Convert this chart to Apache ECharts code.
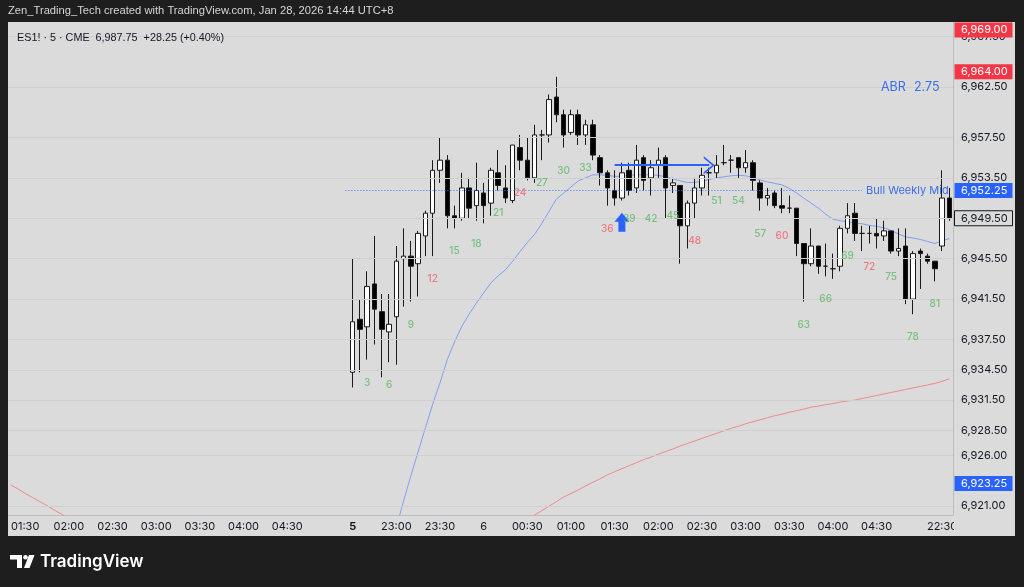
<!DOCTYPE html>
<html><head><meta charset="utf-8">
<script src="https://cdn.jsdelivr.net/npm/echarts@6/dist/echarts.min.js"></script>
<style>html,body{margin:0;padding:0;background:#1e1e1e}#c{width:1024px;height:587px}</style>
</head><body><div id="c"></div>
<script>
// ---- data ----
const barFirst = -46, barLast = 83;          // bar numbers on the category axis
// OHLC for bars 1..83
const opens  = [6934.25,6939.5,6938.75,6943,6940.25,6938.25,6939.75,6945.5,6945.75,6945,6947.75,6950,6954.25,6955.25,6949.75,6949.5,6952.5,6950.75,6952,6951,6954,6952.5,6951.25,6956.5,6955.25,6953.5,6957.75,6957.75,6961.5,6959.75,6958,6959.75,6957.75,6958.75,6955.5,6954,6952.25,6951.5,6954.25,6952.5,6955.5,6953.5,6954.75,6955.5,6952.75,6952.75,6948.75,6951,6952.5,6954,6954,6955,6955.25,6955.5,6954.5,6955,6953,6951.5,6952,6950.75,6950.5,6950.5,6947,6945,6946.75,6944.75,6944.5,6944.75,6948.5,6950,6948,6948,6948,6947.75,6948.25,6946.25,6946.75,6941.5,6946.25,6945.75,6945.25,6946.75,6951.5];
const closes = [6939.25,6938.5,6942.75,6940.5,6938.5,6939,6945.25,6945.75,6944.75,6948,6950,6954.25,6955.25,6949.75,6949.5,6952.5,6950.5,6952.25,6950.75,6954.25,6952.75,6951.5,6956.75,6955.25,6953.5,6957.75,6957.75,6961.25,6959.75,6957.75,6959.75,6957.75,6958.75,6955.75,6954,6952.5,6951.5,6954,6952.25,6955.25,6953.25,6954.5,6955.25,6952.5,6953,6948.75,6951,6952.5,6953.75,6954,6954.75,6955,6955.25,6954.5,6955,6953.25,6951.5,6951.75,6950.75,6950.5,6950.5,6947,6945,6946.75,6944.75,6944.75,6944.5,6948.5,6949.75,6948,6948,6948,6947.75,6948.25,6946.25,6946.5,6941.5,6946,6946,6945.25,6944.5,6951.5,6949.5];
const lows   = [6932.75,6934.25,6935.5,6937,6933.75,6935.25,6935,6940.75,6941.25,6941.75,6945.75,6945.75,6953,6948.5,6948.5,6949.25,6949.5,6949.25,6949,6949.75,6952.25,6951,6951,6954.25,6953.25,6953,6955.25,6957,6959,6956.5,6957.75,6956.75,6956.75,6955.25,6952.75,6950.75,6950.75,6951.25,6951.75,6952,6952.25,6951.75,6953.5,6949.5,6952,6945,6946.5,6949.5,6951.75,6951.75,6953.5,6954.75,6954,6953.5,6954,6952.25,6950.25,6950.75,6950.5,6950,6950,6945.75,6941.25,6944.75,6944,6943.75,6943.5,6944.25,6948,6947.25,6946.25,6947,6946.5,6947.25,6946,6945.75,6941,6940,6942.5,6945,6943.25,6946.25,6949.25];
const highs  = [6945.5,6941.5,6944.25,6947.75,6942,6942,6946.75,6948.5,6947.25,6948.25,6950.25,6955.25,6957.5,6955.75,6950.75,6954,6953.5,6955,6953,6954.5,6956.25,6954.75,6956.75,6957.75,6957.5,6958.75,6958.25,6961.75,6963.5,6960.25,6960.25,6960.25,6959.25,6959.25,6955.75,6954.25,6954.25,6955,6955,6956.75,6955.75,6955.25,6956.5,6955.75,6953.5,6952.75,6951.25,6953.5,6954.5,6954.5,6955.75,6956.75,6955.75,6955.5,6956.25,6955.25,6953.25,6952.5,6952.25,6952.5,6951.75,6950.5,6947,6948.5,6946.75,6947,6946,6948.75,6951,6951,6948.75,6948.75,6949.5,6949.25,6948.25,6948.5,6948.5,6946.25,6946.5,6946,6945.25,6954.25,6952.5];
// fast moving average (blue), bars 6..83
const fastMaStart = 6;
const fastMa = [6916.5,6918.9,6921.5,6924.0,6926.4,6928.75,6931.1,6933.2,6935.5,6937.25,6938.8,6940.0,6941.1,6942.1,6943.1,6943.8,6944.4,6945.25,6946.2,6947.1,6947.9,6949.0,6950.2,6951.4,6952.0,6952.6,6953.2,6953.5,6953.8,6953.8,6953.75,6953.65,6953.65,6953.75,6953.8,6953.8,6953.8,6953.75,6953.6,6953.4,6953.2,6953.05,6953.05,6953.15,6953.35,6953.5,6953.6,6953.7,6953.75,6953.7,6953.55,6953.3,6953.1,6952.95,6952.8,6952.45,6952.0,6951.5,6951.0,6950.5,6949.9,6949.4,6949.25,6949.15,6949.05,6948.95,6948.8,6948.7,6948.55,6948.3,6947.95,6947.65,6947.55,6947.4,6947.2,6947.0,6947.25,6947.5];
// slow moving average (red): visible part on the left (bars -46..-37) and right (bars 24..83)
const slowMaLeftStart = -46;
const slowMaLeft = [6923.1,6922.7,6922.25,6921.85,6921.45,6921.05,6920.6,6920.2,6919.8,6919.4];
const slowMaRightStart = 24;
const slowMaRight = [6919.3,6919.7,6920.1,6920.55,6921.0,6921.45,6921.9,6922.25,6922.6,6923.0,6923.35,6923.7,6924.1,6924.4,6924.7,6925.0,6925.3,6925.6,6925.85,6926.15,6926.4,6926.65,6926.95,6927.2,6927.45,6927.7,6927.95,6928.2,6928.45,6928.7,6928.9,6929.15,6929.35,6929.55,6929.75,6929.95,6930.1,6930.3,6930.45,6930.6,6930.8,6930.9,6931.05,6931.15,6931.3,6931.4,6931.5,6931.65,6931.8,6931.95,6932.1,6932.25,6932.4,6932.55,6932.7,6932.85,6933.0,6933.15,6933.35,6933.6];
const countBars = [3,6,9,12,15,18,21,24,27,30,33,36,39,42,45,48,51,54,57,60,63,66,69,72,75,78,81];
const timeTickBars  = [-44,-38,-32,-26,-20,-14,-8,1,7,13,19,25,31,37,43,49,55,61,67,73,82];
const timeTickTexts = ['01:30','02:00','02:30','03:00','03:30','04:00','04:30','5','23:00','23:30','6','00:30','01:00','01:30','02:00','02:30','03:00','03:30','04:00','04:30','22:30'];
const priceTicks = [6967.5,6962.5,6957.5,6953.5,6945.5,6941.5,6937.5,6934.5,6931.5,6928.5,6926,6921];
const lastPrice = 6949.5;
const weeklyMid = 6952.25;
const priceTags = [6969, 6964, 6952.25, 6923.25];
const priceTagKinds = ['red','red','blue','blue'];
const arrowLevel = 6954.75, arrowFrom = 37, arrowTo = 49.5;
const upArrowBar = 38, upArrowPrice = 6949.1;

// ---- build ----
const FONT = 'Inter, "Noto Sans", sans-serif';
const HFONT = '"Liberation Sans", Arial, sans-serif';
const PANEL = '#dbdbdb', INK = '#131722';
const idx = k => k - barFirst;
const cats = [];
for (let k = barFirst; k <= barLast; k++) cats.push(String(k));
const candleData = cats.map((_, i) => {
  const k = i + barFirst;
  if (k >= 1 && k <= opens.length) return [opens[k-1], closes[k-1], lows[k-1], highs[k-1]];
  return ['-','-','-','-'];
});
const fastData = cats.map((_, i) => { const j = i + barFirst - fastMaStart; return (j >= 0 && j < fastMa.length) ? fastMa[j] : null; });
const slowData = cats.map((_, i) => {
  const k = i + barFirst;
  const a = k - slowMaLeftStart, b = k - slowMaRightStart;
  if (a >= 0 && a < slowMaLeft.length) return slowMaLeft[a];
  if (b >= 0 && b < slowMaRight.length) return slowMaRight[b];
  return null;
});
const tickMap = {};
timeTickBars.forEach((k, j) => tickMap[idx(k)] = timeTickTexts[j]);
const fmt = v => v.toLocaleString('en-US', {minimumFractionDigits: 2, maximumFractionDigits: 2});

const chart = echarts.init(document.getElementById('c'), null, {renderer: 'canvas'});
const option = {
  animation: false,
  backgroundColor: PANEL,
  textStyle: {fontFamily: FONT},
  grid: {left: 7, right: 71, top: 22, bottom: 72, containLabel: false},
  xAxis: {
    type: 'category', data: cats, boundaryGap: true,
    axisLine: {show: true, lineStyle: {color: '#bdbdbd'}},
    axisTick: {show: false},
    splitLine: {show: false},
    axisLabel: {
      interval: (i) => tickMap[i] !== undefined,
      formatter: (v, i) => { const t = tickMap[i]; if (t === undefined) return ''; return t === '5' ? '{b|5}' : t; },
      color: INK, fontSize: 11, margin: 6, fontFamily: FONT,
      rich: {b: {fontWeight: 'bold', color: INK, fontSize: 11, fontFamily: FONT}}
    }
  },
  yAxis: {
    type: 'value', position: 'right', min: 6920.12, max: 6968.93, scale: true,
    axisLine: {show: true, lineStyle: {color: '#bdbdbd'}},
    axisTick: {show: false},
    splitLine: {show: false},
    axisLabel: {customValues: priceTicks, formatter: fmt, color: INK, fontSize: 11, margin: 8, fontFamily: FONT}
  },
  series: [
    {
      type: 'line', data: cats.map(() => null), z: 1, silent: true,
      markLine: {silent: true, symbol: 'none', label: {show: false},
        lineStyle: {color: '#cfcfcf', width: 1, type: 'solid'},
        data: priceTicks.concat([lastPrice]).map(v => ({yAxis: v}))}
    },
    {
      type: 'line', data: slowData, showSymbol: false, connectNulls: false, z: 3,
      lineStyle: {color: '#ef8a8a', width: 1}, silent: true
    },
    {
      type: 'line', data: fastData, showSymbol: false, connectNulls: false, z: 3,
      lineStyle: {color: '#7f9ff0', width: 1}, silent: true
    },
    {
      type: 'candlestick', data: candleData, barWidth: 5, z: 4,
      itemStyle: {color: '#ffffff', color0: '#000000', borderColor: '#1a1a1a', borderColor0: '#1a1a1a', borderWidth: 1},
      markLine: {
        silent: true, animation: false,
        data: [
          [{coord: [idx(0), weeklyMid], symbol: 'none',
            lineStyle: {color: '#4272ec', width: 1, type: [1, 2]},
            label: {show: true, position: 'end', formatter: 'Bull Weekly Mid', color: '#3b6fe6', fontSize: 11, distance: 4, fontFamily: FONT}},
           {coord: [idx(71), weeklyMid], symbol: 'none'}],
          [{coord: [idx(arrowFrom), arrowLevel], symbol: 'none',
            lineStyle: {color: '#2962ff', width: 2, type: 'solid'}, label: {show: false}},
           {coord: [idx(arrowTo), arrowLevel], symbol: 'path://M0,11 L9,0 L18,11 L16,11 L9,2.6 L2,11 Z', symbolSize: [18, 11]}]
        ]
      },
      markPoint: {
        silent: true,
        data: [{coord: [idx(upArrowBar), upArrowPrice], symbol: 'path://M7.5,0 L15,9 L11,9 L11,19 L4,19 L4,9 L0,9 Z', symbolSize: [15, 19],
          itemStyle: {color: '#2962ff'}, label: {show: false}}]
      }
    },
    {
      type: 'scatter', symbolSize: 0, z: 5, silent: true,
      data: countBars.map(b => ({value: [idx(b), lows[b-1]],
        label: {color: b % 12 === 0 ? '#f0616b' : '#5fb865'}})),
      label: {show: true, position: 'inside', offset: [0, 23], fontSize: 10, fontWeight: 500, fontFamily: FONT,
        formatter: p => String(countBars[p.dataIndex])}
    }
  ]
};
chart.setOption(option);

// overlays: frame, header, price tags
const yPix = v => chart.convertToPixel({yAxisIndex: 0}, v);
const g = [];
const DARK = '#1e1e1e';
g.push({type: 'rect', shape: {x: 0, y: 0, width: 1024, height: 22}, style: {fill: DARK}, z: 80, silent: true});
g.push({type: 'rect', shape: {x: 0, y: 536, width: 1024, height: 51}, style: {fill: DARK}, z: 80, silent: true});
g.push({type: 'rect', shape: {x: 0, y: 0, width: 8, height: 587}, style: {fill: DARK}, z: 80, silent: true});
g.push({type: 'rect', shape: {x: 1015, y: 0, width: 9, height: 587}, style: {fill: DARK}, z: 80, silent: true});
g.push({type: 'rect', shape: {x: 954, y: 516, width: 61, height: 20}, style: {fill: PANEL}, z: 70, silent: true});
g.push({type: 'text', x: 8, y: 11, style: {text: 'Zen_Trading_Tech created with TradingView.com, Jan 28, 2026 14:44 UTC+8', fill: '#d6d6d6', font: '11.2px ' + HFONT, textVerticalAlign: 'middle'}, z: 100, silent: true});
g.push({type: 'text', x: 17, y: 38, style: {text: 'ES1! · 5 · CME  6,987.75  +28.25 (+0.40%)', fill: INK, font: '10.8px ' + HFONT, textVerticalAlign: 'middle'}, z: 100, silent: true});
g.push({type: 'text', x: 881, y: 87, style: {text: 'ABR', fill: '#3b6fe6', font: '12.5px ' + FONT, textVerticalAlign: 'middle'}, z: 100, silent: true});
g.push({type: 'text', x: 914, y: 87, style: {text: '2.75', fill: '#3b6fe6', font: '12.5px ' + FONT, textVerticalAlign: 'middle'}, z: 100, silent: true});
// TradingView logo
g.push({type: 'polygon', shape: {points: [[10,555],[22,555],[22,568],[17,568],[17,559.5],[10,559.5]]}, style: {fill: '#ffffff'}, z: 100, silent: true});
g.push({type: 'circle', shape: {cx: 25.5, cy: 557.2, r: 2.3}, style: {fill: '#ffffff'}, z: 100, silent: true});
g.push({type: 'polygon', shape: {points: [[29,555],[34.5,555],[29.5,568],[24,568]]}, style: {fill: '#ffffff'}, z: 100, silent: true});
g.push({type: 'text', x: 40, y: 562, style: {text: 'TradingView', fill: '#ffffff', font: '600 17px ' + FONT, textVerticalAlign: 'middle'}, z: 100, silent: true});
// price tags on the axis
const tagDefs = priceTags.map((v, j) => ({v, bg: priceTagKinds[j] === 'red' ? '#f23645' : '#2962ff', fg: '#ffffff'}));
tagDefs.push({v: lastPrice, bg: PANEL, fg: INK, stroke: INK});
tagDefs.forEach(t => {
  let y = yPix(t.v);
  y = Math.max(30, y);
  g.push({type: 'rect', shape: {x: 954.5, y: y - 7.5, width: 58, height: 15}, style: {fill: t.bg, stroke: t.stroke || null, lineWidth: 1}, z: 110, silent: true});
  g.push({type: 'text', x: 961, y: y, style: {text: fmt(t.v), fill: t.fg, font: '11px ' + FONT, textVerticalAlign: 'middle'}, z: 111, silent: true});
});
chart.setOption({graphic: g});
</script>
</body></html>
